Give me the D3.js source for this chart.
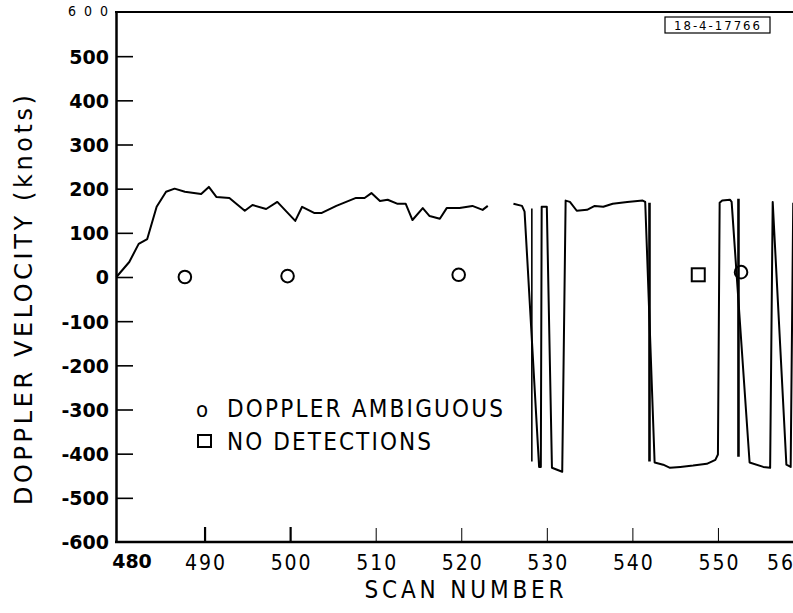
<!DOCTYPE html>
<html><head><meta charset="utf-8">
<script src="https://cdn.jsdelivr.net/npm/d3@7/dist/d3.min.js"></script>
<style>body{margin:0;background:#fff}svg{display:block}</style>
</head><body><svg id="c" width="793" height="613"></svg>
<script>
// ---- data ----
const seg1Scan = [479.7,481.2,482.3,483.3,484.4,485.5,486.5,487.7,489.6,490.5,491.4,492.9,494.7,495.6,497.2,498.5,500.6,501.4,502.8,503.7,505.4,507.7,508.7,509.5,510.5,511.4,512.5,513.5,514.3,515.5,516.3,517.5,518.3,519.8,521.3,522.5,523.1];
const seg1Vel  = [0,34,75,86,159,193,200,193,188,204,181,179,150,163,154,170,127,159,145,145,161,179,179,190,172,175,166,166,129,156,138,132,156,156,161,152,161];
const seg2Scan = [526.1,527.1,527.4,529.1,529.3,529.4,530.0,530.6,531.8,532.2,532.7,533.5,534.7,535.6,536.6,537.7,539.4,541.2,541.5,542.6,543.6,544.4,545.6,547.1,548.7,549.7,550.0,550.2,550.5,551.4,551.6,553.7,555.3,556.1,556.4,558.0,558.5,558.8];
const seg2Vel  = [166,161,148,-430,-430,159,159,-432,-441,173,170,150,152,161,159,166,170,173,170,-420,-425,-432,-430,-427,-423,-414,-402,168,173,175,170,-420,-430,-432,170,-425,-430,168];
const jumpScan = [528.25, 542.0, 552.4];
const jumpTop  = [155, 168, 177];
const jumpBot  = [-418, -418, -407];
const ambigScan = [487.7, 499.7, 519.7, 552.7];
const ambigVel  = [0, 2, 5, 11];
const noDetScan = [547.7];
const noDetVel  = [5];
const yTicks = [-600,-500,-400,-300,-200,-100,0,100,200,300,400,500,600];
const xTicks = [480,490,500,510,520,530,540,550,560];
const yTitle = "DOPPLER VELOCITY (knots)";
const xTitle = "SCAN NUMBER";
const legendAmbig = "DOPPLER AMBIGUOUS";
const legendNoDet = "NO DETECTIONS";
const figId = "18-4-17766";

// ---- layout ----
const svg = d3.select("#c");
const W = 793, H = 613;
const x = d3.scaleLinear().domain([480, 560]).range([119, 803.5]);
const y = d3.scaleLinear().domain([-600, 600]).range([542, 12]);
const axX = 116;
const boldFont = "'DejaVu Sans', sans-serif";
const thinFont = "'Liberation Sans Narrow', 'DejaVu Sans Condensed', Roboto, 'Liberation Sans', sans-serif";

// top border
svg.append("line").attr("x1", axX - 1).attr("x2", W).attr("y1", y(600)).attr("y2", y(600))
  .attr("stroke", "#000").attr("stroke-width", 2);

// Y axis
const yAxis = d3.axisLeft(y).tickValues(yTicks.filter(v => v !== 600))
  .tickSize(-17).tickSizeOuter(0).tickPadding(7)
  .tickFormat(v => v < 0 ? "-" + Math.abs(v) : String(v));
const gy = svg.append("g").attr("transform", `translate(${axX},0)`).call(yAxis);
gy.select(".domain").attr("stroke", "#000").attr("stroke-width", 2.5);
gy.selectAll(".tick line").attr("stroke", "#000").attr("stroke-width", 1.6);
gy.selectAll(".tick text").attr("font-family", boldFont).attr("font-weight", "bold")
  .attr("font-size", 19).attr("fill", "#000").attr("dy", "0.36em");
gy.selectAll(".tick").filter(v => v === -600).select("line").remove();
// 600 label (thin)
svg.append("text").attr("x", 108).attr("y", y(600) + 4).attr("text-anchor", "end")
  .attr("font-family", thinFont).attr("font-size", 14).attr("fill", "#000")
  .attr("textLength", 40).attr("lengthAdjust", "spacing").text("600");

// X axis
const xAxis = d3.axisBottom(x).tickValues(xTicks.filter(v => v !== 480))
  .tickSize(-15).tickSizeOuter(0).tickPadding(13).tickFormat(d3.format("d"));
const gx = svg.append("g").attr("transform", `translate(0,${y(-600)})`).call(xAxis);
gx.select(".domain").remove();
svg.append("line").attr("x1", axX - 1).attr("x2", W).attr("y1", y(-600)).attr("y2", y(-600))
  .attr("stroke", "#000").attr("stroke-width", 2.5);
gx.selectAll(".tick line").attr("stroke", "#000")
  .attr("stroke-width", v => (v === 490 || v === 500) ? 2.2 : 1)
  .attr("y2", v => (v === 490 || v === 500) ? -15 : -14);
gx.selectAll(".tick text").attr("font-family", thinFont).attr("font-size", 21).attr("fill", "#000")
  .attr("textLength", 40).attr("lengthAdjust", "spacing")
  .attr("x", v => v === 560 ? -17 : 0);
// 480 label (bold)
svg.append("text").attr("x", 132).attr("y", y(-600) + 13).attr("dy", "0.71em").attr("text-anchor", "middle")
  .attr("font-family", boldFont).attr("font-weight", "bold").attr("font-size", 19).attr("fill", "#000")
  .text("480");

// axis titles
svg.append("text").attr("transform", `translate(32,300) rotate(-90)`).attr("text-anchor", "middle")
  .attr("font-family", boldFont).attr("font-size", 24).attr("fill", "#000")
  .attr("textLength", 410).attr("lengthAdjust", "spacing").text(yTitle);
svg.append("text").attr("x", 464).attr("y", 598).attr("text-anchor", "middle")
  .attr("font-family", thinFont).attr("font-size", 24).attr("fill", "#000")
  .attr("textLength", 199).attr("lengthAdjust", "spacing").text(xTitle);

// data line
const pts = seg1Scan.map((s, i) => ({s, v: seg1Vel[i]}))
  .concat([null])
  .concat(seg2Scan.map((s, i) => ({s, v: seg2Vel[i]})));
const line = d3.line().defined(d => d !== null).x(d => x(d.s)).y(d => y(d.v));
svg.append("path").attr("d", line(pts)).attr("fill", "none").attr("stroke", "#000")
  .attr("stroke-width", 2).attr("stroke-linejoin", "round");

// vertical jump strokes
svg.selectAll(".jump").data(jumpScan).join("line").attr("class", "jump")
  .attr("x1", d => x(d)).attr("x2", d => x(d))
  .attr("y1", (d, i) => y(jumpTop[i])).attr("y2", (d, i) => y(jumpBot[i]))
  .attr("stroke", "#000").attr("stroke-width", (d, i) => i === 0 ? 1.6 : 2.6);

// markers
svg.selectAll(".amb").data(ambigScan).join("circle").attr("class", "amb")
  .attr("cx", d => x(d)).attr("cy", (d, i) => y(ambigVel[i])).attr("r", 6.3)
  .attr("fill", "none").attr("stroke", "#000").attr("stroke-width", 2);
svg.selectAll(".nod").data(noDetScan).join("rect").attr("class", "nod")
  .attr("x", d => x(d) - 6.5).attr("y", (d, i) => y(noDetVel[i]) - 6.5)
  .attr("width", 13).attr("height", 13)
  .attr("fill", "none").attr("stroke", "#000").attr("stroke-width", 2);

// legend
svg.append("text").attr("x", 196).attr("y", 417).attr("font-family", thinFont).attr("font-size", 22)
  .attr("fill", "#000").text("o");
svg.append("text").attr("x", 227).attr("y", 417).attr("font-family", thinFont).attr("font-size", 24)
  .attr("fill", "#000").attr("textLength", 276).attr("lengthAdjust", "spacing").text(legendAmbig);
svg.append("rect").attr("x", 198).attr("y", 435).attr("width", 13).attr("height", 12)
  .attr("fill", "none").attr("stroke", "#000").attr("stroke-width", 2);
svg.append("text").attr("x", 227).attr("y", 450).attr("font-family", thinFont).attr("font-size", 24)
  .attr("fill", "#000").attr("textLength", 204).attr("lengthAdjust", "spacing").text(legendNoDet);

// figure id box
svg.append("rect").attr("x", 665).attr("y", 17).attr("width", 105).attr("height", 16)
  .attr("fill", "none").attr("stroke", "#000").attr("stroke-width", 1.2);
svg.append("text").attr("x", 717).attr("y", 30).attr("text-anchor", "middle")
  .attr("font-family", thinFont).attr("font-size", 13).attr("fill", "#000")
  .attr("textLength", 86).attr("lengthAdjust", "spacing").text(figId);
</script></body></html>
